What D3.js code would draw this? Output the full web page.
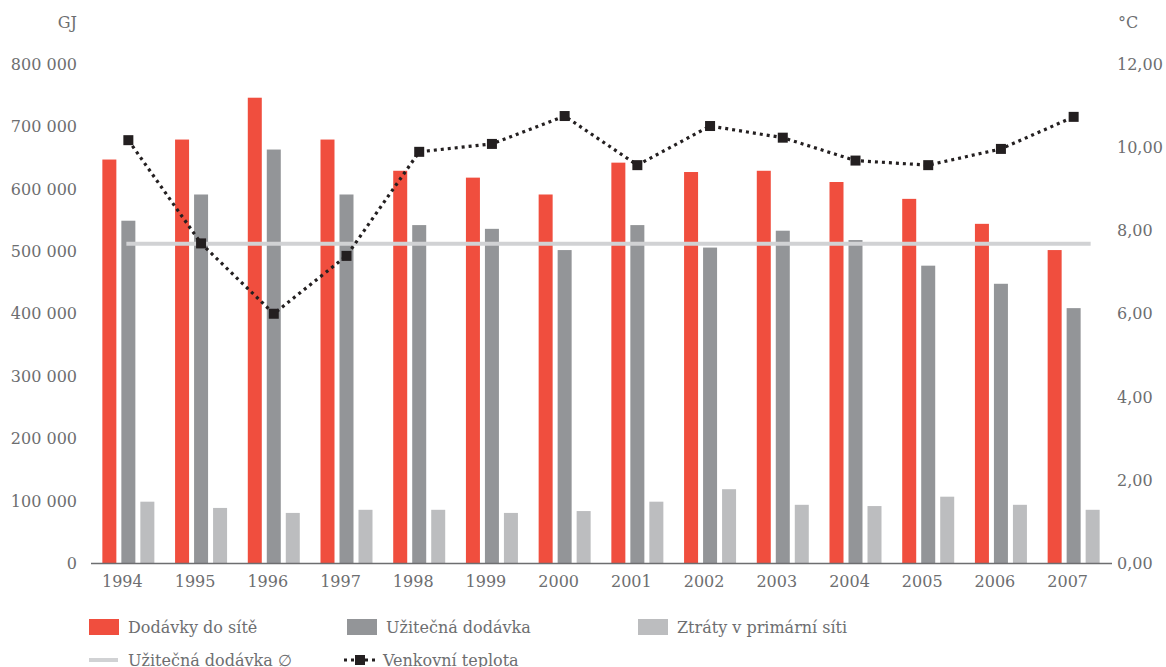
<!DOCTYPE html>
<html>
<head>
<meta charset="utf-8">
<script src="https://cdn.jsdelivr.net/npm/d3@7"></script>
<style>
  html, body { margin: 0; padding: 0; background: #fff; }
  svg text { font-family: "DejaVu Serif", serif; fill: #6d6e70; }
</style>
</head>
<body>
<svg id="chart" width="1166" height="667"></svg>
<script>
// Dodávky tepla 1994–2007
const years = ["1994","1995","1996","1997","1998","1999","2000","2001","2002","2003","2004","2005","2006","2007"];
const dodavky = [647000, 679000, 746000, 679000, 629000, 618000, 591000, 642000, 627000, 629000, 611000, 584000, 544000, 502000];
const uzitecna = [549000, 591000, 663000, 591000, 542000, 536000, 502000, 542000, 506000, 533000, 518000, 477000, 448000, 409000];
const ztraty = [99000, 89000, 81000, 86000, 86000, 81000, 84000, 99000, 119000, 94000, 92000, 107000, 94000, 86000];
const teplota = [10.17, 7.69, 6.0, 7.39, 9.89, 10.08, 10.75, 9.57, 10.51, 10.23, 9.68, 9.57, 9.96, 10.73];
const uzitecnaPrumer = 512000;

const leftTicks = [0, 100000, 200000, 300000, 400000, 500000, 600000, 700000, 800000];
const rightTicks = [0, 2, 4, 6, 8, 10, 12];

const colors = { dodavky: "#f04e3e", uzitecna: "#939598", ztraty: "#bcbdbf", prumer: "#d1d2d4", teplota: "#231f20" };

const svg = d3.select("#chart");
const plotTop = 64, plotBottom = 563.5, plotLeft = 92, plotRight = 1110;

const x = d3.scaleBand().domain(years).range([plotLeft, plotRight]).padding(0);
const yL = d3.scaleLinear().domain([0, 800000]).range([plotBottom, plotTop]);
const yR = d3.scaleLinear().domain([0, 12]).range([plotBottom, plotTop]);

const barW = 14;
const series = [
  { values: dodavky, color: colors.dodavky, offset: -26 },
  { values: uzitecna, color: colors.uzitecna, offset: -7 },
  { values: ztraty, color: colors.ztraty, offset: 12 }
];

// bars
series.forEach(s => {
  svg.append("g").selectAll("rect").data(years).join("rect")
    .attr("x", d => x(d) + x.bandwidth() / 2 + s.offset)
    .attr("y", (d, i) => yL(s.values[i]))
    .attr("width", barW)
    .attr("height", (d, i) => yL(0) - yL(s.values[i]))
    .attr("fill", s.color);
});

// average useful delivery
svg.append("line")
  .attr("x1", x(years[0]) + x.bandwidth() / 2 - 2)
  .attr("x2", x(years[years.length - 1]) + x.bandwidth() / 2 + 17)
  .attr("y1", yL(uzitecnaPrumer)).attr("y2", yL(uzitecnaPrumer))
  .attr("stroke", colors.prumer).attr("stroke-width", 4);

// baseline
svg.append("line")
  .attr("x1", plotLeft - 1).attr("x2", plotRight + 2)
  .attr("y1", plotBottom).attr("y2", plotBottom)
  .attr("stroke", "#6d6e70").attr("stroke-width", 1.3);

// left axis
const axL = svg.append("g").attr("transform", `translate(77,0)`)
  .call(d3.axisLeft(yL).tickValues(leftTicks).tickSize(0).tickPadding(0)
    .tickFormat(d => d3.format(",")(d).replace(/,/g, " ")));
axL.select(".domain").remove();
axL.selectAll("text").attr("font-size", 16).style("font-family", "DejaVu Serif");

// right axis
const axR = svg.append("g").attr("transform", `translate(1117,0)`)
  .call(d3.axisRight(yR).tickValues(rightTicks).tickSize(0).tickPadding(0)
    .tickFormat(d => d3.format(".2f")(d).replace(".", ",")));
axR.select(".domain").remove();
axR.selectAll("text").attr("font-size", 16).style("font-family", "DejaVu Serif");

// x axis labels
const axX = svg.append("g").attr("transform", `translate(0,${plotBottom})`)
  .call(d3.axisBottom(x).tickSize(0).tickPadding(12));
axX.select(".domain").remove();
axX.selectAll("text").attr("font-size", 16).style("font-family", "DejaVu Serif")
  .attr("dx", -6);

// unit labels
svg.append("text").attr("x", 77).attr("y", 28).attr("text-anchor", "end").attr("font-size", 16).text("GJ");
svg.append("text").attr("x", 1118).attr("y", 28).attr("font-size", 16).text("°C");

// temperature line
const cx = (d, i) => x(years[i]) + x.bandwidth() / 2;
const line = d3.line().x((d, i) => cx(d, i)).y(d => yR(d));
svg.append("path").datum(teplota)
  .attr("d", line)
  .attr("fill", "none").attr("stroke", colors.teplota)
  .attr("stroke-width", 3.2).attr("stroke-dasharray", "3 4");
svg.append("g").selectAll("rect").data(teplota).join("rect")
  .attr("x", (d, i) => cx(d, i) - 5)
  .attr("y", d => yR(d) - 5)
  .attr("width", 10).attr("height", 10)
  .attr("fill", colors.teplota);

// legend
const lg = svg.append("g");
const legendItems = [
  { label: "Dodávky do sítě", type: "rect", color: colors.dodavky, x: 89, y: 627 },
  { label: "Užitečná dodávka", type: "rect", color: colors.uzitecna, x: 347, y: 627 },
  { label: "Ztráty v primární síti", type: "rect", color: colors.ztraty, x: 638, y: 627 },
  { label: "Užitečná dodávka ∅", type: "line", color: colors.prumer, x: 89, y: 660 },
  { label: "Venkovní teplota", type: "marker", color: colors.teplota, x: 344, y: 660 }
];
legendItems.forEach(it => {
  if (it.type === "rect") {
    lg.append("rect").attr("x", it.x).attr("y", it.y - 8).attr("width", 30).attr("height", 16).attr("fill", it.color);
  } else if (it.type === "line") {
    lg.append("line").attr("x1", it.x).attr("x2", it.x + 29).attr("y1", it.y).attr("y2", it.y)
      .attr("stroke", it.color).attr("stroke-width", 4);
  } else {
    lg.append("line").attr("x1", it.x).attr("x2", it.x + 31).attr("y1", it.y).attr("y2", it.y)
      .attr("stroke", it.color).attr("stroke-width", 3).attr("stroke-dasharray", "3 4");
    lg.append("rect").attr("x", it.x + 11).attr("y", it.y - 5).attr("width", 10).attr("height", 10).attr("fill", it.color);
  }
  lg.append("text").attr("x", it.x + 39).attr("y", it.y).attr("dy", "0.35em")
    .attr("font-size", 16).text(it.label);
});
</script>
</body>
</html>
